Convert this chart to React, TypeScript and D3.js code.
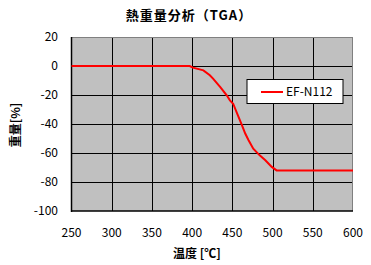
import React from "react";
import * as d3 from "d3";

const title = "熱重量分析（TGA）";
const xLabel = "温度 [℃]";
const yLabel = "重量[%]";
const seriesName = "EF-N112";
const xTicks = [250, 300, 350, 400, 450, 500, 550, 600];
const yTicks = [20, 0, -20, -40, -60, -80, -100];
const temps = [250, 300, 350, 397, 401, 414, 422, 426, 435, 443, 447, 451, 456, 462, 466, 470, 476, 484, 491, 499, 505, 550, 600];
const weights = [0, 0, 0, 0, -1.1, -3, -6.4, -8.7, -14.5, -20.2, -23.7, -26, -32.8, -40.9, -46.6, -51, -57, -61.6, -65, -69.6, -72, -72, -72];

const W = 371, H = 265;
const L = 71.5, R = 353, T = 37, B = 211;
const font = "'Noto Sans CJK JP', 'DejaVu Sans', sans-serif";

export default function App() {
  const x = d3.scaleLinear().domain([250, 600]).range([L, R]);
  const y = d3.scaleLinear().domain([-100, 20]).range([B, T]);
  const pts = temps.map((t, i) => [x(t), y(weights[i])] as [number, number]);
  const line = d3.line()(pts) || "";
  return (
    <svg width={W} height={H} style={{ position: "absolute", left: 0, top: 0, background: "#fff" }}>
      <rect x={L} y={T} width={R - L} height={B - T} fill="#c0c0c0" />
      {xTicks.slice(1, -1).map((t) => (
        <line key={"gx" + t} x1={Math.round(x(t)) + 0.5} x2={Math.round(x(t)) + 0.5} y1={T} y2={B} stroke="#000" strokeWidth={1} />
      ))}
      {yTicks.slice(1, -1).map((t) => (
        <line key={"gy" + t} x1={L} x2={R} y1={Math.round(y(t)) + 0.5} y2={Math.round(y(t)) + 0.5} stroke="#000" strokeWidth={1} />
      ))}
      <line x1={L} x2={R} y1={T + 0.5} y2={T + 0.5} stroke="#808080" />
      <line x1={R - 0.5} x2={R - 0.5} y1={T} y2={B} stroke="#808080" />
      <line x1={L} x2={L} y1={T} y2={B + 1} stroke="#000" strokeWidth={1.5} />
      <line x1={L} x2={R} y1={B} y2={B} stroke="#000" strokeWidth={1.5} />
      <path d={line} fill="none" stroke="#ff0000" strokeWidth={2} />
      {yTicks.map((t) => (
        <text key={"ty" + t} x={58} y={y(t)} dy="0.35em" textAnchor="end" fontSize={12} fontFamily={font} fill="#000">{t}</text>
      ))}
      {xTicks.map((t) => (
        <text key={"tx" + t} x={x(t)} y={233} dy="0.35em" textAnchor="middle" fontSize={12} fontFamily={font} fill="#000">{t}</text>
      ))}
      <text x={189} y={15} dy="0.35em" textAnchor="middle" fontSize={13} fontWeight="bold" letterSpacing={1} fontFamily={font} fill="#000">{title}</text>
      <text x={197} y={254} dy="0.35em" textAnchor="middle" fontSize={12} fontWeight="bold" fontFamily={font} fill="#000">{xLabel}</text>
      <text transform={`translate(16,125) rotate(-90)`} dy="0.35em" textAnchor="middle" fontSize={12} fontWeight="bold" fontFamily={font} fill="#000">{yLabel}</text>
      <rect x={247} y={79.5} width={96} height={24} fill="#fff" stroke="#000" strokeWidth={1} />
      <line x1={261} x2={283} y1={92} y2={92} stroke="#ff0000" strokeWidth={2} />
      <text x={286} y={92} dy="0.35em" fontSize={12} fontFamily={font} fill="#000">{seriesName}</text>
    </svg>
  );
}
